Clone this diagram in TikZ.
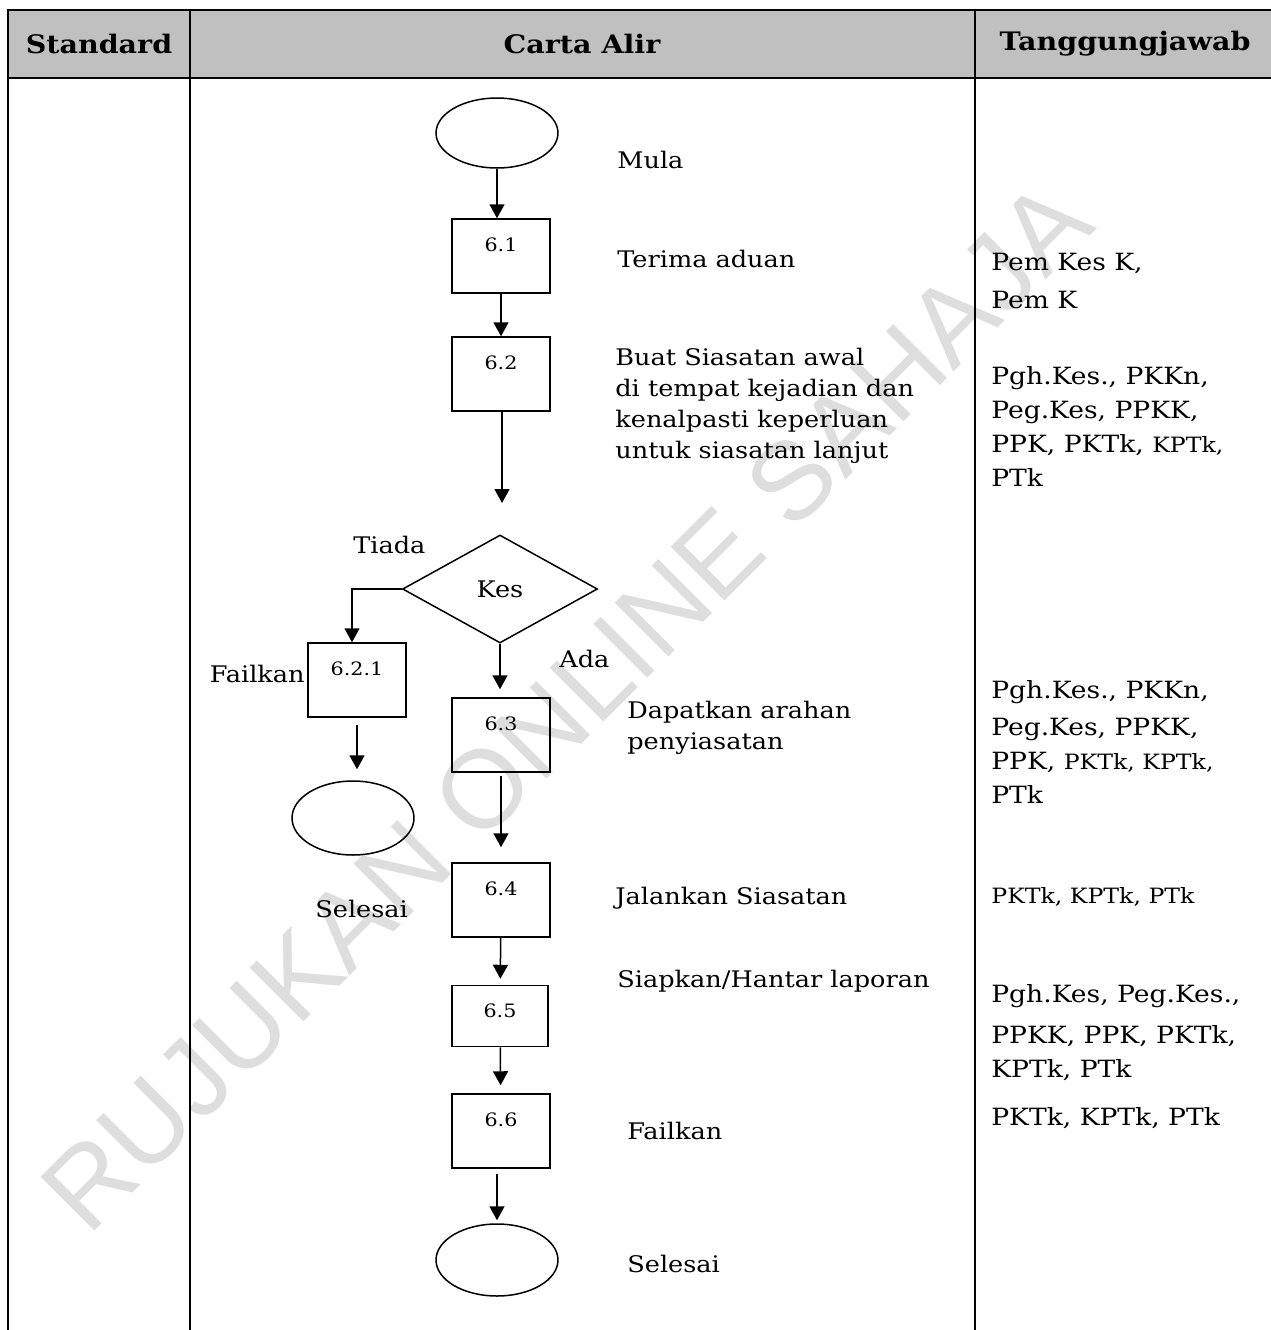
\documentclass[tikz,border=0pt]{standalone}
\usepackage{fontspec}
\setmainfont{DejaVu Serif}[FakeStretch=1.12]
\setsansfont{Liberation Sans}
\usepackage{tikz}
\usetikzlibrary{positioning,shapes.geometric,arrows.meta,calc}
\definecolor{hdrgray}{RGB}{192,192,192}
\definecolor{wmgray}{RGB}{222,222,222}
\newcommand{\desctext}{\fontsize{13}{17.6}\selectfont}
\newcommand{\rcoltext}{\fontsize{13.5}{19.3}\selectfont}
\newcommand{\rcolsmall}{\fontsize{12}{19.3}\selectfont}
\newcommand{\numtext}{\fontsize{10.5}{12}\selectfont}
\tikzset{
  tblline/.style={line width=0.055cm, line cap=rect},
  hdrtext/.style={font=\fontsize{14.5}{17}\selectfont\bfseries, inner sep=0pt},
  stepbox/.style={draw, line width=0.03cm, minimum width=1.96cm, minimum height=1.48cm, inner sep=0pt,
                  label={[anchor=north, inner sep=0pt, yshift=-0.38cm, font=\numtext]north:#1}},
  termnode/.style={draw, ellipse, line width=0.03cm, minimum width=2.44cm, minimum height=1.44cm, inner sep=0pt},
  decnode/.style={draw, diamond, line width=0.03cm, minimum width=3.9cm, minimum height=2.16cm,
                  inner sep=0pt, font=\desctext},
  desc/.style={font=\desctext, inner sep=0pt, align=left},
  rcol/.style={font=\rcoltext, inner sep=0pt, align=left, anchor=north west},
  arr/.style={-{Triangle[length=0.28cm, width=0.3cm]}, line width=0.03cm}
}
\begin{document}
\begin{tikzpicture}[x=0.02cm, y=-0.02cm]
  \useasboundingbox (0,0) rectangle (1271,1330);

  % watermark
  \node[rotate=45, text=wmgray, font=\fontsize{63}{63}\selectfont\sffamily] (wmark) at (566,706)
       {RUJUKAN ONLINE SAHAJA};

  % table frame
  \fill[hdrgray] (8,10) rectangle (1271,78);
  \draw[tblline] (8,10) -- (1271,10) (8,78) -- (1271,78);
  \foreach \cx in {8,190,975} \draw[tblline] (\cx,10) -- (\cx,1330);
  \node[hdrtext] (hstd) at (99,44) {Standard};
  \node[hdrtext] (hflow) at (582,44) {Carta Alir};
  \node[hdrtext] (hresp) at (1125,44) {Tanggungjawab};

  % flow chart
  \node[termnode, minimum width=2.44cm, minimum height=1.4cm] (start) at (497,133) {};
  \node[stepbox=6.1] (b61) at (501,256) {};
  \node[stepbox=6.2] (b62) at (501,374) {};
  \coordinate (kesin) at (502,503);
  \node[decnode] (kes) at (500,589) {Kes};
  \node[stepbox=6.2.1] (b621) at (357,680) {};
  \node[termnode, minimum height=1.48cm] (end1) at (353,818) {};
  \node[stepbox=6.3] (b63) at (501,735) {};
  \node[stepbox=6.4] (b64) at (501,900) {};
  \node[stepbox=6.5, minimum width=1.92cm, minimum height=1.22cm] (b65) at (500,1016) {};
  \node[stepbox=6.6] (b66) at (501,1131) {};
  \node[termnode] (end2) at (497,1260) {};

  \draw[arr] (start) -- (start |- b61.north);
  \draw[arr] (b61) -- (b62);
  \draw[arr] (b62.south -| kesin) -- (kesin);
  \draw[arr] (kes.west) -| ([xshift=-0.1cm]b621.north);
  \draw[arr, shorten <=0.14cm, shorten >=0.22cm] (b621.south) -- (b621.south |- end1.north);
  \draw[arr, shorten >=0.16cm] (kes.south) -- (kes.south |- b63.north);
  \draw[arr, shorten <=0.06cm, shorten >=0.3cm] (b63) -- (b64);
  \draw[arr, shorten >=0.12cm] (b64) -- (b65);
  \draw[arr, shorten >=0.16cm] (b65) -- (b66);
  \draw[arr, shorten <=0.1cm, shorten >=0.06cm] (end2.north |- b66.south) -- (end2.north);

  % step texts
  \node[desc, anchor=base west] (tmula) at (617,168) {Mula};
  \node[desc, anchor=base west] (t61) at (617,267) {Terima aduan};
  \node[desc, anchor=north west] (t62) at (615,348)
       {Buat Siasatan awal\\di tempat kejadian dan\\kenalpasti keperluan\\untuk siasatan lanjut};
  \node[desc, anchor=base west] (ttiada) at (353,553) {Tiada};
  \node[desc, anchor=base west] (tada) at (559,667) {Ada};
  \node[desc, anchor=base east] (t621) at (305,682) {Failkan};
  \node[desc, anchor=base west] (tend1) at (315,917) {Selesai};
  \node[desc, anchor=north west] (t63) at (627,701) {Dapatkan arahan\\penyiasatan};
  \node[desc, anchor=base west] (t64) at (615,904) {Jalankan Siasatan};
  \node[desc, anchor=base west] (t65) at (617,987) {Siapkan/Hantar laporan};
  \node[desc, anchor=base west] (t66) at (627,1139) {Failkan};
  \node[desc, anchor=base west] (tend2) at (627,1272) {Selesai};

  % responsibility column
  \node[rcol] (r61) at (991,253) {Pem Kes K,\\[2.3pt]Pem K};
  \node[rcol] (r62) at (991,366)
       {Pgh.Kes., PKKn,\\Peg.Kes, PPKK,\\PPK, PKTk, {\rcolsmall KPTk,}\\PTk};
  \node[rcol] (r63) at (991,680)
       {Pgh.Kes., PKKn,\\[2pt]Peg.Kes, PPKK,\\PPK, {\rcolsmall PKTk, KPTk,}\\PTk};
  \node[rcol, anchor=base west, font=\rcolsmall] (r64) at (991,903) {PKTk, KPTk, PTk};
  \node[rcol] (r65) at (991,984) {Pgh.Kes, Peg.Kes.,\\[4pt]PPKK, PPK, PKTk,\\KPTk, PTk};
  \node[rcol, anchor=base west] (r66) at (991,1125) {PKTk, KPTk, PTk};
\end{tikzpicture}
\end{document}
